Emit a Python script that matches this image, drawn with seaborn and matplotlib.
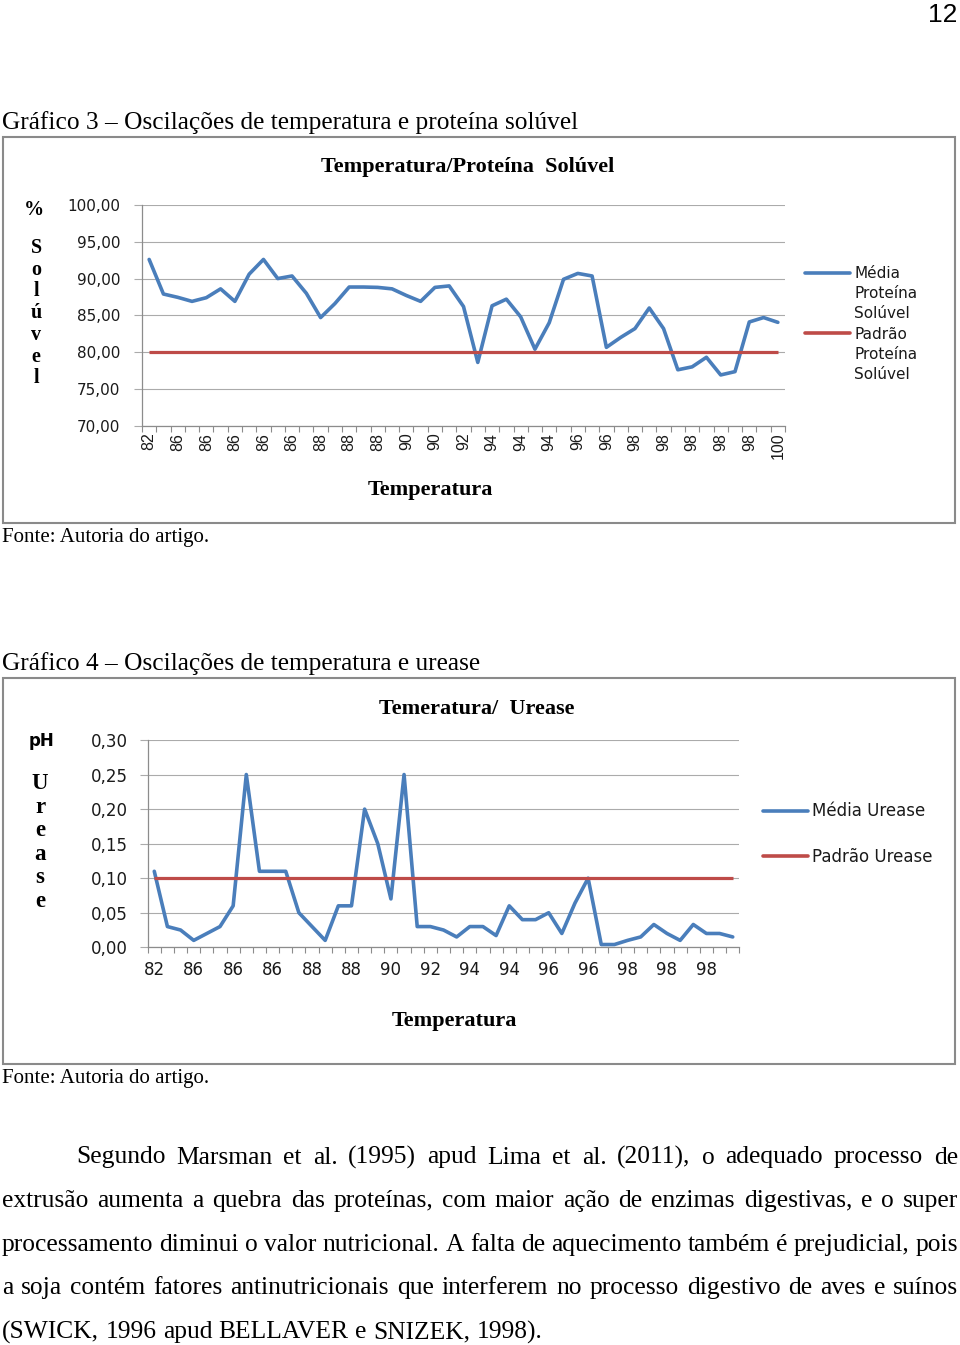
import numpy as np
import pandas as pd
import matplotlib
matplotlib.use("Agg")
import matplotlib.pyplot as plt
from matplotlib.lines import Line2D
from matplotlib.patches import Rectangle
import seaborn as sns

# Gráfico 3 - média da proteína solúvel (%), 45 amostras
proteina_media = [92.6, 87.9, 87.45, 86.9, 87.4, 88.6, 86.9, 90.6, 92.6, 90.0,
                  90.35, 88.0, 84.7, 86.6, 88.85, 88.85, 88.8, 88.6, 87.7, 86.9,
                  88.8, 89.0, 86.2, 78.6, 86.3, 87.2, 84.8, 80.4, 84.0, 89.9,
                  90.7, 90.35, 80.65, 82.0, 83.2, 86.0, 83.2, 77.6, 78.0, 79.3,
                  76.9, 77.35, 84.1, 84.7, 84.05]
proteina_padrao = 80.0
# rótulos de temperatura mostrados (um a cada 2 amostras)
temp_labels_proteina = ["82", "86", "86", "86", "86", "86", "88", "88", "88", "90",
                        "90", "92", "94", "94", "94", "96", "96", "98", "98", "98",
                        "98", "98", "100"]

# Gráfico 4 - média da urease (pH), 45 amostras
urease_media = [0.11, 0.03, 0.025, 0.01, 0.02, 0.03, 0.06, 0.25, 0.11, 0.11,
                0.11, 0.05, 0.03, 0.01, 0.06, 0.06, 0.20, 0.15, 0.07, 0.25,
                0.03, 0.03, 0.025, 0.015, 0.03, 0.03, 0.017, 0.06, 0.04, 0.04,
                0.05, 0.02, 0.064, 0.10, 0.004, 0.004, 0.01, 0.015, 0.033, 0.02,
                0.01, 0.033, 0.02, 0.02, 0.015]
urease_padrao = 0.10
# rótulos de temperatura mostrados (um a cada 3 amostras)
temp_labels_urease = ["82", "86", "86", "86", "88", "88", "90", "92", "94", "94",
                      "96", "96", "98", "98", "98"]

paragrafo = [
    "Segundo Marsman et al. (1995) apud Lima et al. (2011), o adequado processo de",
    "extrusão aumenta a quebra das proteínas, com maior ação de enzimas digestivas, e o super",
    "processamento diminui o valor nutricional. A falta de aquecimento também é prejudicial, pois",
    "a soja contém fatores antinutricionais que interferem no processo digestivo de aves e suínos",
    "(SWICK, 1996 apud BELLAVER e SNIZEK, 1998).",
]

AZUL = "#4A7EBB"
VERMELHO = "#BE4B48"
GRADE = "#ababab"
EIXO = "#8c8c8c"
TXT = "#1a1a1a"
SERIF = ["Liberation Serif", "DejaVu Serif"]

sns.set_style("white")
plt.rcParams["font.family"] = ["DejaVu Sans"]

W, H = 960, 1345
fig = plt.figure(figsize=(W / 100, H / 100), dpi=100)
fig.patch.set_facecolor("white")


def fx(x):
    return x / W


def fy(y):
    return 1 - y / H


def estilo_eixo(ax, ylim, yticks, ytick_fmt, ylab_size, ypad):
    n = len(proteina_media)
    ax.set_xlim(-0.5, n - 0.5)
    ax.set_ylim(*ylim)
    ax.set_yticks(yticks)
    ax.set_yticklabels([ytick_fmt(v).replace(".", ",") for v in yticks])
    ax.set_xlabel("")
    ax.set_ylabel("")
    for s in ["top", "right"]:
        ax.spines[s].set_visible(False)
    for s in ["left", "bottom"]:
        ax.spines[s].set_color(EIXO)
        ax.spines[s].set_linewidth(0.9)
    ax.grid(axis="y", color=GRADE, linewidth=0.8)
    ax.set_axisbelow(True)
    ax.tick_params(axis="y", direction="out", length=6, width=0.8, color=GRADE,
                   pad=ypad, labelsize=ylab_size, labelcolor=TXT, left=True)
    # marcas do eixo x entre categorias
    ax.set_xticks(np.arange(-0.5, n, 1.0))
    ax.set_xticklabels([])
    ax.tick_params(axis="x", which="major", direction="out", length=4.5,
                   width=0.8, color=EIXO, bottom=True)
    ax.set_facecolor("white")


# ---------------- Gráfico 3 ----------------
ax1 = fig.add_axes([fx(142), fy(425.7), 643 / W, 220.7 / H])
df1 = pd.DataFrame({"amostra": np.arange(len(proteina_media)), "media": proteina_media})
sns.lineplot(data=df1, x="amostra", y="media", ax=ax1, color=AZUL, linewidth=2.6,
             legend=False, zorder=3)
ax1.hlines(proteina_padrao, 0, len(proteina_media) - 1, color=VERMELHO,
           linewidth=2.3, zorder=4)
estilo_eixo(ax1, (70, 100), np.arange(70, 100.1, 5), lambda v: f"{v:.2f}", 11, 9.5)
pos1 = np.arange(0, len(proteina_media), 2)
ax1.set_xticks(pos1, minor=True)
ax1.set_xticklabels(temp_labels_proteina, minor=True, rotation=90,
                    family=["Liberation Sans", "DejaVu Sans"], fontsize=11.5, color=TXT)
ax1.tick_params(axis="x", which="minor", length=0, pad=5)

h_none = Line2D([], [], color="none")
ax1.legend([Line2D([], [], color=AZUL, lw=2.6), h_none, h_none,
            Line2D([], [], color=VERMELHO, lw=2.6), h_none, h_none],
           ["Média", "Proteína", "Solúvel", "Padrão", "Proteína", "Solúvel"],
           loc="center left", bbox_to_anchor=(fx(805), fy(324)),
           bbox_transform=fig.transFigure, frameon=False, fontsize=11,
           handlelength=2.95, handletextpad=0.26, labelspacing=0.33,
           borderpad=0, borderaxespad=0, labelcolor=TXT)

fig.text(fx(467.5), fy(172.3), "Temperatura/Proteína  Solúvel", ha="center",
         va="baseline", family=SERIF, fontweight="bold", fontsize=16, color="black")
fig.text(fx(430.5), fy(495), "Temperatura", ha="center", va="baseline",
         family=SERIF, fontweight="bold", fontsize=16, color="black")
fig.text(fx(33.5), fy(215), "%", ha="center", va="baseline", family=SERIF,
         fontweight="bold", fontsize=14.5, color="black")
for i, ch in enumerate("Solúvel"):
    fig.text(fx(36.3), fy(253 + 21.7 * i), ch, ha="center", va="baseline",
             family=SERIF, fontweight="bold", fontsize=14.5, color="black")

# ---------------- Gráfico 4 ----------------
ax2 = fig.add_axes([fx(147.7), fy(947.3), 591.6 / W, 207.3 / H])
df2 = pd.DataFrame({"amostra": np.arange(len(urease_media)), "media": urease_media})
sns.lineplot(data=df2, x="amostra", y="media", ax=ax2, color=AZUL, linewidth=2.6,
             legend=False, zorder=3)
ax2.hlines(urease_padrao, 0, len(urease_media) - 1, color=VERMELHO,
           linewidth=2.3, zorder=4)
estilo_eixo(ax2, (0, 0.30), np.round(np.arange(0, 0.301, 0.05), 2),
            lambda v: f"{v:.2f}", 12, 8.5)
pos2 = np.arange(0, len(urease_media), 3)
ax2.set_xticks(pos2, minor=True)
ax2.set_xticklabels(temp_labels_urease, minor=True, fontsize=12, color=TXT)
ax2.tick_params(axis="x", which="minor", length=0, pad=10)

ax2.legend([Line2D([], [], color=AZUL, lw=2.6), Line2D([], [], color=VERMELHO, lw=2.6)],
           ["Média Urease", "Padrão Urease"],
           loc="center left", bbox_to_anchor=(fx(763), fy(834)),
           bbox_transform=fig.transFigure, frameon=False, fontsize=12,
           handlelength=2.7, handletextpad=0.24, labelspacing=1.62,
           borderpad=0, borderaxespad=0, labelcolor=TXT)

fig.text(fx(477), fy(714.3), "Temeratura/  Urease", ha="center", va="baseline",
         family=SERIF, fontweight="bold", fontsize=16, color="black")
fig.text(fx(454), fy(1026), "Temperatura", ha="center", va="baseline",
         family=SERIF, fontweight="bold", fontsize=16, color="black")
fig.text(fx(41.7), fy(745.5), "pH", ha="center", va="baseline",
         fontweight="bold", fontsize=12, color="black")
for i, ch in enumerate("Urease"):
    fig.text(fx(40), fy(789 + 23.6 * i), ch, ha="center", va="baseline",
             family=SERIF, fontweight="bold", fontsize=16.5, color="black")

# molduras dos gráficos
for top, bottom in [(137, 522.5), (678, 1064)]:
    fig.patches.append(Rectangle((fx(3), fy(bottom)), (955 - 3) / W, (bottom - top) / H,
                                 transform=fig.transFigure, fill=False,
                                 edgecolor="#8a8a8a", linewidth=1.5))

# ---------------- texto da página ----------------
fig.text(fx(957), fy(22), "12", ha="right", va="baseline",
         family=["Liberation Sans Narrow", "Liberation Sans"], fontsize=19, color="black")
fig.text(fx(2), fy(128.5), "Gráfico 3 – Oscilações de temperatura e proteína solúvel",
         ha="left", va="baseline", family=SERIF, fontsize=18.3, color="black")
fig.text(fx(2), fy(541.7), "Fonte: Autoria do artigo.", ha="left", va="baseline",
         family=SERIF, fontsize=15, color="black")
fig.text(fx(2), fy(670), "Gráfico 4 – Oscilações de temperatura e urease",
         ha="left", va="baseline", family=SERIF, fontsize=18.3, color="black")
fig.text(fx(2), fy(1083.5), "Fonte: Autoria do artigo.", ha="left", va="baseline",
         family=SERIF, fontsize=15, color="black")

renderer = fig.canvas.get_renderer()
for i, linha in enumerate(paragrafo):
    y = 1163.5 + 43.65 * i
    x0 = 76 if i == 0 else 2
    palavras = linha.split()
    textos = [fig.text(fx(x0), fy(y), p, ha="left", va="baseline", family=SERIF,
                       fontsize=18.4, color="black") for p in palavras]
    larguras = [t.get_window_extent(renderer).width for t in textos]
    if i < len(paragrafo) - 1:
        gap = (958 - x0 - sum(larguras)) / (len(palavras) - 1)
    else:
        gap = 6.4
    x = x0
    for t, w in zip(textos, larguras):
        t.set_x(fx(x))
        x += w + gap

fig.savefig("out.png", dpi=100, facecolor="white")
